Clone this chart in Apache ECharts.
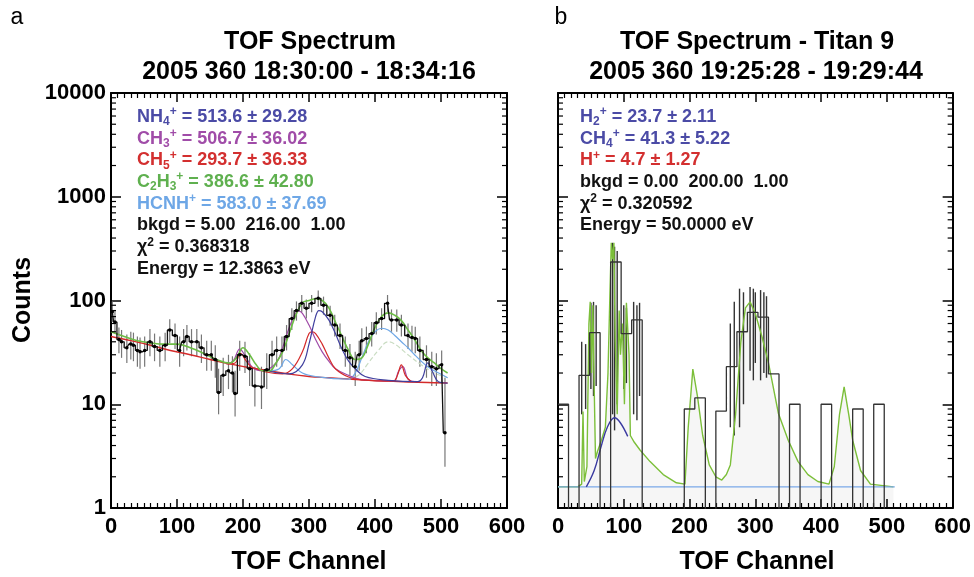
<!DOCTYPE html>
<html>
<head>
<meta charset="utf-8">
<script src="https://cdn.jsdelivr.net/npm/echarts@6/dist/echarts.min.js"></script>
<style>html,body{margin:0;padding:0;background:#fff}#c{width:974px;height:577px}</style>
</head>
<body>
<div id="c"></div>
<script>
// ---------- DATA ----------
const xTicks = [0, 100, 200, 300, 400, 500, 600];
const yTicks = [1, 10, 100, 1000, 10000];

// Panel a: measured points [channel, counts, errLow, errHigh]
const dataA = [
 [2,78,62,98],[6,62,48,80],[12,42,31,55],[16,40,28,52],[24,35,25,47],[30,38,27,50],
 [34,37,26,49],[40,33,23,45],[44,32,22,44],[51,33,23,45],[59,40,29,53],[66,36,26,48],
 [74,33,23,45],[82,37,26,49],[89,52,39,66],[97,46,34,60],[104,33,23,45],[110,40,29,53],
 [115,45,33,58],[122,40,29,53],[130,40,29,53],[137,35,25,47],[145,30,21,41],[152,30,21,41],
 [158,27,18,37],[163,13,8,22],[170,19,12,28],[178,21,14,30],[184,20,13,29],[188,12.7,7.6,21],
 [195,30,21,41],[203,29,20,40],[210,22,15,31],[218,15,9.5,23],[228,14.7,9,23],[236,21.5,14,31],
 [244,30,21,41],[251,33,23,45],[259,33,23,45],[266,45,33,58],[274,67,52,84],[281,80,64,98],
 [289,94,77,113],[296,84,67,102],[304,94,77,113],[314,105,87,125],[322,90,73,109],[332,72,57,89],
 [339,58,45,73],[347,46,34,60],[355,33,23,45],[362,28,19,38],[370,23,15,32],[376,30,21,41],
 [380,41,30,54],[387,43,31,56],[395,48,36,62],[402,61,47,77],[410,67,52,84],[419,94,77,113],
 [425,65,50,82],[433,65,50,82],[440,58,45,73],[450,46,34,60],[456,44,32,57],[461,43,31,56],
 [468,33,23,45],[478,27,18,37],[486,23,15,32],[493,22,15,31],[501,24,16,33],[506,5.3,2.5,18]
];
// Panel a fit curves [channel, counts]
const fitTotalA = [[0,50],[20,45],[40,41],[60,39],[80,38],[100,38],[120,35],[140,31],[160,27],[180,25],
 [190,28],[200,35],[210,30],[220,24],[230,21],[240,21],[250,25],[260,32],[270,48],[280,72],[290,95],
 [300,100],[310,104],[320,100],[330,85],[340,62],[350,45],[360,33],[370,27],[380,28],[390,38],[400,55],
 [410,70],[420,76],[430,72],[440,64],[450,52],[460,42],[470,33],[480,28],[490,25],[500,22],[510,20]];
const bkgdA = [[0,45],[30,41],[60,37],[90,33],[120,30],[150,27],[180,24.5],[210,22.5],[240,21],[270,19.5],
 [300,18.5],[330,18],[360,17.5],[390,17],[420,16.7],[450,16.4],[480,16.2],[510,16]];
const nh4A = [[240,20.8],[270,19.6],[290,24],[300,38],[310,70],[315,80],[320,78],[330,65],[340,48],[350,34],
 [360,26],[370,22],[385,18.5],[420,17],[465,16.5],[472,18],[480,25],[488,20],[496,16.5],[510,16]];
const ch3A = [[175,24.5],[185,26],[195,34],[205,28],[215,22.5],[230,21],[250,25],[260,35],[270,55],[280,76],
 [285,79],[290,75],[300,58],[310,42],[320,32],[330,26],[340,22],[360,19],[380,17.3],[428,16.8],[436,21],
 [442,23],[450,17.5],[460,16.5]];
const ch5A = [[175,24.5],[188,25],[196,31],[205,26],[215,22.5],[260,19.6],[275,22],[290,32],[300,48],[305,50],
 [310,48],[320,38],[330,28],[340,22],[360,18.3],[380,17.2],[428,16.7],[434,19],[440,24],[446,19],[455,16.5]];
const hcnhA = [[240,21],[255,22],[265,27],[275,24],[290,20],[310,18.5],[360,17.5],[370,20],[380,28],[390,40],
 [400,50],[410,54],[420,52],[430,46],[440,40],[450,35],[460,30],[470,26],[480,23],[490,21],[500,19.5],[510,18]];
const c2h3A = [[360,17.5],[375,19],[390,25],[405,33],[420,40],[430,38],[450,30],[470,24],[490,20],[510,18]];

// Panel b: 16-channel bins [startChannel, endChannel, counts] (0 = empty bin)
const binsB = [
 [0,16,10],[16,32,0],[32,48,19],[48,64,49],[64,80,0],[80,96,235],[96,112,48],[112,128,65],
 [128,144,0],[144,160,0],[160,176,0],[176,192,0],[192,208,9],[208,224,11.5],[224,240,0],[240,256,8.6],
 [256,272,23],[272,288,50],[288,304,77],[304,320,69],[320,336,19.6],[336,352,0],[352,368,10],[368,384,0],
 [384,400,0],[400,416,10],[416,432,0],[432,448,0],[448,464,9],[464,480,0],[480,496,10],[496,512,0]
];
// Panel b error bars [channel, low, high]
const errB = [[36,8,40],[42,9,38],[50,14,95],[54,12,97],[58,15,90],[83,8,360],[86,5.6,330],[90,10,300],
 [100,14,90],[104,16,85],[115,8,97],[120,7,90],[124,12,95],[262,6,60],[268,5,97],[276,6,130],[282,10,120],
 [292,21,135],[297,17,130],[300,25,120],[308,17,126],[313,20,120],[317,18,110]];
// Panel b fit curves
const fitTotalB = [[0,1.6],[30,1.6],[36,1.7],[38,8.5],[40,1.8],[44,2.5],[47,60],[49,97],[51,20],[53,90],[55,15],
 [57,3],[60,3.5],[66,4.5],[72,6],[76,20],[79,120],[81,360],[83,250],[85,360],[87,40],[90,8],[93,80],[95,30],
 [98,60],[101,10],[104,95],[106,97],[108,30],[110,5],[116,4.3],[125,3.6],[140,2.8],[160,2.1],[180,1.75],
 [193,1.7],[198,6],[205,21.8],[212,12],[220,5],[230,2.6],[240,2],[249,1.86],[256,2.1],[262,2.6],[270,8],
 [278,40],[285,85],[292,97],[300,75],[310,45],[320,25],[335,8.2],[350,4.5],[365,2.8],[380,2.1],[395,1.8],
 [412,1.7],[420,2.5],[428,8],[435,14.7],[442,8],[448,4.5],[460,2.3],[475,1.7],[510,1.6]];
const ch4B = [[43,1.6],[55,2.3],[65,3.8],[75,6],[86,7.4],[95,6.6],[106,4.9]];
const bkgdB = [[0,1.6],[512,1.6]];

const legendA = [
 ['NH{sub|4}{sup|+} = 513.6 ± 29.28', '#4b4ba6'],
 ['CH{sub|3}{sup|+} = 506.7 ± 36.02', '#a04ca8'],
 ['CH{sub|5}{sup|+} = 293.7 ± 36.33', '#d32f2f'],
 ['C{sub|2}H{sub|3}{sup|+} = 386.6 ± 42.80', '#5fb04f'],
 ['HCNH{sup|+} = 583.0 ± 37.69', '#6ea7e6'],
 ['bkgd = 5.00  216.00  1.00', '#111'],
 ['χ{sup|2} = 0.368318', '#111'],
 ['Energy = 12.3863 eV', '#111']
];
const legendB = [
 ['H{sub|2}{sup|+} = 23.7 ± 2.11', '#4b4ba6'],
 ['CH{sub|4}{sup|+} = 41.3 ± 5.22', '#4b4ba6'],
 ['H{sup|+} = 4.7 ± 1.27', '#d32f2f'],
 ['bkgd = 0.00  200.00  1.00', '#111'],
 ['χ{sup|2} = 0.320592', '#111'],
 ['Energy = 50.0000 eV', '#111']
];

// ---------- CHART ----------
const FONT = '"Liberation Sans", Arial, Helvetica, sans-serif';
const EMPTY = 0.01; // empty bins drawn below the axis floor
const minorY = [];
yTicks.slice(0, -1).forEach(d => { for (let k = 2; k <= 9; k++) minorY.push([0, d * k]); });

function xAx(gi, pos, lab) {
  return {type:'value', gridIndex:gi, position:pos, min:0, max:600, interval:100,
    axisLine:{show:true, onZero:false, lineStyle:{color:'#000', width:2}},
    axisTick:{show:true, inside:true, length:9, lineStyle:{color:'#000', width:1.5}},
    minorTick:{show:true, splitNumber:10, length:5, lineStyle:{color:'#000', width:1.2}},
    axisLabel:{show:lab, color:'#000', fontFamily:FONT, fontWeight:'bold', fontSize:22, margin:8},
    splitLine:{show:false}, minorSplitLine:{show:false}};
}
function yAx(gi, pos, lab) {
  return {type:'log', logBase:10, gridIndex:gi, position:pos, min:1, max:10000,
    axisLine:{show:true, onZero:false, lineStyle:{color:'#000', width:2}},
    axisTick:{show:true, inside:true, length:10, lineStyle:{color:'#000', width:1.5}},
    axisLabel:{show:lab, color:'#000', fontFamily:FONT, fontWeight:'bold', fontSize:22, margin:5,
      formatter: v => String(Math.round(v))},
    splitLine:{show:false}};
}
function minorTickSeries(xi, yi) {
  return {type:'custom', xAxisIndex:xi, yAxisIndex:yi, data:minorY, silent:true, z:10,
    renderItem: (p, api) => {
      const v = api.value(1);
      const a = api.coord([0, v]), b = api.coord([600, v]);
      const st = {stroke:'#000', lineWidth:1.2};
      return {type:'group', children:[
        {type:'line', shape:{x1:a[0], y1:a[1], x2:a[0]+5, y2:a[1]}, style:st},
        {type:'line', shape:{x1:b[0]-5, y1:b[1], x2:b[0], y2:b[1]}, style:st}]};
    }};
}
function errSeries(xi, yi, rows, color, w) {
  return {type:'custom', xAxisIndex:xi, yAxisIndex:yi, data:rows, silent:true, clip:true,
    renderItem: (p, api) => {
      const lo = api.coord([api.value(0), api.value(1)]);
      const hi = api.coord([api.value(0), api.value(2)]);
      return {type:'line', shape:{x1:lo[0], y1:lo[1], x2:hi[0], y2:hi[1]}, style:{stroke:color, lineWidth:w}};
    }};
}
function curve(xi, yi, pts, color, w, smooth, extra) {
  return Object.assign({type:'line', xAxisIndex:xi, yAxisIndex:yi, data:pts, showSymbol:false, symbol:'none',
    smooth:smooth, lineStyle:{color:color, width:w}, silent:true, clip:true, animation:false}, extra || {});
}

const stepB = [];
binsB.forEach(b => { const v = b[2] > 0 ? b[2] : EMPTY; stepB.push([b[0], v], [b[1], v]); });

const rich = {
  sub:{fontSize:12, lineHeight:12, verticalAlign:'bottom', fontWeight:'bold', fontFamily:FONT},
  sup:{fontSize:12, lineHeight:12, verticalAlign:'top', fontWeight:'bold', fontFamily:FONT}
};
function legendGraphics(list, x, y0) {
  return list.map((l, i) => {
    const r = {};
    Object.keys(rich).forEach(k => r[k] = Object.assign({}, rich[k], {fill:l[1]}));
    return {type:'text', x:x, y:y0 + i * 21.7, z:50,
      style:{text:l[0], fill:l[1], fontFamily:FONT, fontWeight:'bold', fontSize:18, lineHeight:22,
        verticalAlign:'top', rich:r}};
  });
}
function txt(x, y, s, size, weight, extra) {
  return Object.assign({type:'text', x:x, y:y, z:50, style:{text:s, fill:'#000', fontFamily:FONT,
    fontWeight:weight, fontSize:size, align:'center', verticalAlign:'middle'}}, extra || {});
}

const option = {
  animation:false,
  grid:[{left:111, top:93, width:396, height:415}, {left:558, top:93, width:398, height:415}],
  xAxis:[xAx(0,'bottom',true), xAx(0,'top',false), xAx(1,'bottom',true), xAx(1,'top',false)],
  yAxis:[yAx(0,'left',true), yAx(0,'right',false), yAx(1,'left',false), yAx(1,'right',false)],
  series:[
    // panel a
    errSeries(0, 0, dataA.map(d => [d[0], d[2], d[3]]), '#777', 1.2),
    curve(0, 0, bkgdA, '#d42a2a', 1.4, 0.4),
    curve(0, 0, c2h3A, '#c9dcc2', 1.2, 0.4, {lineStyle:{color:'#c9dcc2', width:1.2, type:'dashed'}}),
    curve(0, 0, hcnhA, '#6ea7e6', 1.2, 0.4),
    curve(0, 0, ch3A, '#a04ca8', 1.2, 0.4),
    curve(0, 0, ch5A, '#d42a2a', 1.2, 0.4),
    curve(0, 0, nh4A, '#3f3f9e', 1.2, 0.4),
    curve(0, 0, fitTotalA, '#6cbd45', 1.6, 0.4),
    {type:'line', xAxisIndex:0, yAxisIndex:0, data:dataA.map(d => [d[0], d[1]]), step:'middle',
      symbol:'circle', symbolSize:3.5, showSymbol:true, itemStyle:{color:'#000'},
      lineStyle:{color:'#111', width:1.3}, silent:true, clip:true, z:5},
    minorTickSeries(0, 0),
    // panel b
    curve(2, 2, fitTotalB, '#7cbf3a', 1.4, false, {areaStyle:{color:'rgba(0,0,0,0.05)'}}),
    curve(2, 2, bkgdB, '#7aa8e8', 1.2, false),
    curve(2, 2, ch4B, '#3a3aa0', 1.4, 0.4),
    errSeries(2, 2, errB, '#333', 1.4),
    {type:'line', xAxisIndex:2, yAxisIndex:2, data:stepB, symbol:'none', showSymbol:false,
      lineStyle:{color:'#333', width:1.3}, silent:true, clip:true, z:5},
    minorTickSeries(2, 2)
  ],
  graphic:[
    txt(17, 18, 'a', 23, 'normal'),
    txt(561, 18, 'b', 23, 'normal'),
    txt(310, 42, 'TOF Spectrum', 25, 'bold'),
    txt(309, 72, '2005 360 18:30:00 - 18:34:16', 25, 'bold'),
    txt(757, 42, 'TOF Spectrum - Titan 9', 25, 'bold'),
    txt(756, 72, '2005 360 19:25:28 - 19:29:44', 25, 'bold'),
    txt(309, 562, 'TOF Channel', 25, 'bold'),
    txt(757, 562, 'TOF Channel', 25, 'bold'),
    txt(23, 300, 'Counts', 25, 'bold', {rotation:Math.PI/2}),
  ].concat(legendGraphics(legendA, 137, 106), legendGraphics(legendB, 580, 106))
};
const chart = echarts.init(document.getElementById('c'), null, {renderer:'canvas'});
chart.setOption(option);
</script>
</body>
</html>
